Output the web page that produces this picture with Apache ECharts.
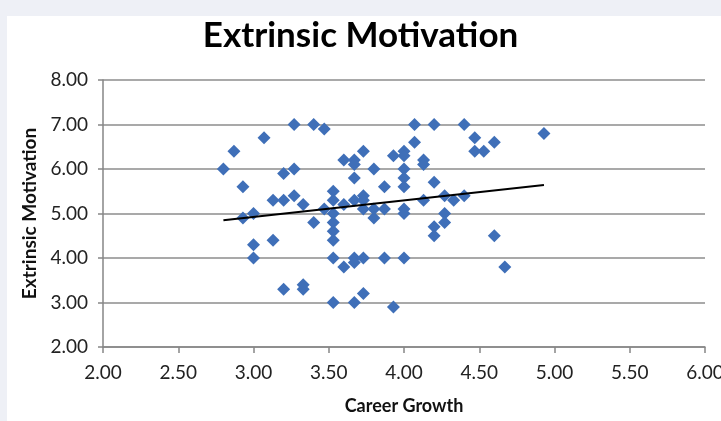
<!DOCTYPE html>
<html>
<head>
<meta charset="utf-8">
<title>Extrinsic Motivation</title>
<script src="https://cdn.jsdelivr.net/npm/echarts@6/dist/echarts.min.js"></script>
<style>
  html, body { margin: 0; padding: 0; background: #eef0f6; }
  #chart { width: 721px; height: 421px; }
</style>
</head>
<body>
<div id="chart"></div>
<script>
// career growth (x) and extrinsic motivation (y), one entry per respondent
var careerGrowth = [
  2.80, 2.87, 2.93, 2.93, 3.00, 3.00, 3.00, 3.07, 3.13, 3.13,
  3.20, 3.20, 3.20, 3.27, 3.27, 3.27, 3.33, 3.33, 3.33, 3.40,
  3.40, 3.47, 3.47, 3.53, 3.53, 3.53, 3.53, 3.53, 3.53, 3.53,
  3.53, 3.60, 3.60, 3.60, 3.67, 3.67, 3.67, 3.67, 3.67, 3.67,
  3.67, 3.73, 3.73, 3.73, 3.73, 3.73, 3.73, 3.80, 3.80, 3.80,
  3.87, 3.87, 3.87, 3.93, 3.93, 4.00, 4.00, 4.00, 4.00, 4.00,
  4.00, 4.00, 4.00, 4.07, 4.07, 4.13, 4.13, 4.13, 4.20, 4.20,
  4.20, 4.20, 4.27, 4.27, 4.27, 4.33, 4.40, 4.40, 4.47, 4.47,
  4.53, 4.60, 4.60, 4.67, 4.93
]
var extrinsicMotivation = [
  6.00, 6.40, 5.60, 4.90, 5.00, 4.30, 4.00, 6.70, 5.30, 4.40,
  5.90, 5.30, 3.30, 7.00, 6.00, 5.40, 5.20, 3.40, 3.30, 7.00,
  4.80, 6.90, 5.10, 5.50, 5.30, 5.00, 4.80, 4.60, 4.40, 4.00,
  3.00, 6.20, 5.20, 3.80, 6.20, 6.10, 5.80, 5.30, 4.00, 3.90,
  3.00, 6.40, 5.40, 5.30, 5.10, 4.00, 3.20, 6.00, 5.10, 4.90,
  5.60, 5.10, 4.00, 6.30, 2.90, 6.40, 6.30, 6.00, 5.80, 5.60,
  5.10, 5.00, 4.00, 7.00, 6.60, 6.20, 6.10, 5.30, 7.00, 5.70,
  4.70, 4.50, 5.40, 5.00, 4.80, 5.30, 7.00, 5.40, 6.70, 6.40,
  6.40, 6.60, 4.50, 3.80, 6.80
]
// linear trend line end points
var trendX = [2.80, 4.93]
var trendY = [4.85, 5.64]

var font = 'Lato, "Open Sans", sans-serif'

var points = careerGrowth.map(function (x, i) { return [x, extrinsicMotivation[i]] })
var trend = trendX.map(function (x, i) { return [x, trendY[i]] })

var chart = echarts.init(document.getElementById('chart'))

chart.setOption({
  backgroundColor: '#eef0f6',
  animation: false,
  // white plot sheet, leaving the light frame at top and left
  graphic: [{
    type: 'rect',
    z: -10,
    shape: { x: 7, y: 16, width: 714, height: 405 },
    style: { fill: '#ffffff' }
  }],
  title: {
    text: 'Extrinsic Motivation',
    left: 'center',
    top: 13,
    textStyle: {
      fontFamily: font,
      fontWeight: 'bold',
      fontSize: 35,
      color: '#000000'
    }
  },
  grid: {
    left: 103,
    right: 16,
    top: 80,
    bottom: 74,
    outerBoundsMode: 'none' // the 6.00 label runs off the right edge in the original
  },
  xAxis: {
    type: 'value',
    min: 2,
    max: 6,
    interval: 0.5,
    name: 'Career Growth',
    nameLocation: 'middle',
    nameGap: 50,
    nameTextStyle: { fontFamily: font, fontWeight: 'bold', fontSize: 18, color: '#111' },
    axisLine: { show: true, lineStyle: { color: '#868686', width: 1.5 } },
    axisTick: { show: true, length: 6, lineStyle: { color: '#868686', width: 1.5 } },
    axisLabel: {
      margin: 16,
      fontFamily: font,
      fontSize: 19,
      color: '#222',
      formatter: function (v) { return v.toFixed(2) }
    },
    splitLine: { show: false }
  },
  yAxis: {
    type: 'value',
    min: 2,
    max: 8,
    interval: 1,
    name: 'Extrinsic Motivation',
    nameLocation: 'middle',
    nameGap: 62,
    nameTextStyle: { fontFamily: font, fontWeight: 'bold', fontSize: 19, color: '#111' },
    axisLine: { show: true, lineStyle: { color: '#868686', width: 1.5 } },
    axisTick: { show: true, length: 5, lineStyle: { color: '#868686', width: 1.5 } },
    axisLabel: {
      margin: 15,
      fontFamily: font,
      fontSize: 19,
      color: '#222',
      formatter: function (v) { return v.toFixed(2) }
    },
    splitLine: { show: true, lineStyle: { color: '#8c8c8c', width: 1.5 } }
  },
  series: [{
    type: 'scatter',
    data: points,
    symbol: 'diamond',
    symbolSize: 13,
    itemStyle: { color: '#3f6fb8', opacity: 1 }
  }, {
    type: 'line',
    data: trend,
    symbol: 'none',
    lineStyle: { color: '#000000', width: 2 },
    z: 3
  }]
})
</script>
</body>
</html>
